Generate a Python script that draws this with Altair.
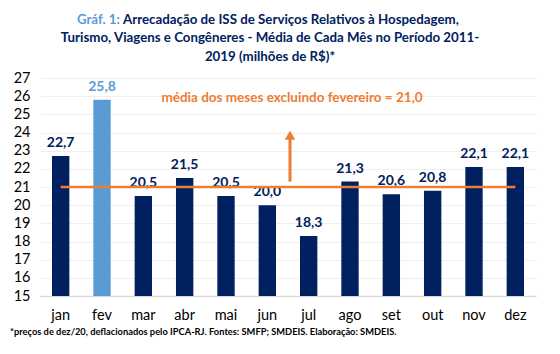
import altair as alt
import pandas as pd

months = ["jan", "fev", "mar", "abr", "mai", "jun", "jul", "ago", "set", "out", "nov", "dez"]
values = [22.7, 25.8, 20.5, 21.5, 20.5, 20.0, 18.3, 21.3, 20.6, 20.8, 22.1, 22.1]
highlight = ["n", "s", "n", "n", "n", "n", "n", "n", "n", "n", "n", "n"]
mean_excl_feb = 21.0
arrow_from = 21.3
arrow_to = 24.2
y_ticks = list(range(15, 28))

NAVY = "#002060"
LIGHT = "#5B9BD5"
ORANGE = "#ED7D31"
FONT = "Lato"

df = pd.DataFrame({
    "mes": months,
    "valor": values,
    "grupo": highlight,
    "rotulo": [f"{v:.1f}".replace(".", ",") for v in values],
})

xscale = alt.Scale(domain=months, paddingInner=0.58, paddingOuter=0.29)
yscale = alt.Scale(domain=[15, 27], nice=False, zero=False)
cscale = alt.Scale(domain=["n", "s"], range=[NAVY, LIGHT])

xaxis = alt.Axis(title=None, labelAngle=0, labelFontSize=14.5, labelColor="#000000",
                 labelFont=FONT, labelPadding=12, ticks=False,
                 domainColor="#D9D9D9", domainWidth=1.5)
yaxis = alt.Axis(title=None, values=y_ticks, labelFontSize=14.5, labelColor="#000000",
                 labelFont=FONT, labelPadding=10, ticks=False, domain=False,
                 labelOverlap=False, gridColor="#EFEFEF", gridWidth=1)

base = alt.Chart(df)

bars = base.mark_bar().encode(
    x=alt.X("mes:N", scale=xscale, sort=months, axis=xaxis),
    y=alt.Y("valor:Q", scale=yscale, axis=yaxis),
    y2=alt.datum(15),
    color=alt.Color("grupo:N", scale=cscale, legend=None),
)

labels = base.mark_text(baseline="bottom", dy=-6, fontSize=14, fontWeight="bold", font=FONT).encode(
    x=alt.X("mes:N", scale=xscale, sort=months, axis=xaxis),
    y=alt.Y("valor:Q", scale=yscale, axis=yaxis),
    text="rotulo:N",
    color=alt.Color("grupo:N", scale=cscale, legend=None),
)

mean_df = pd.DataFrame({"mes": [months[0], months[-1]], "valor": [mean_excl_feb, mean_excl_feb]})
mean_line = alt.Chart(mean_df).mark_line(color=ORANGE, strokeWidth=2.5).encode(
    x=alt.X("mes:N", scale=xscale, sort=months, axis=xaxis),
    y=alt.Y("valor:Q", scale=yscale, axis=yaxis),
)

arrow_df = pd.DataFrame({"y1": [arrow_from], "y2": [arrow_to - 0.5], "tip": [arrow_to - 0.35]})
arrow_shaft = alt.Chart(arrow_df).mark_rule(color=ORANGE, strokeWidth=3).encode(
    x=alt.value(250),
    y=alt.Y("y1:Q", scale=yscale, axis=yaxis),
    y2="y2:Q",
)
arrow_head = alt.Chart(arrow_df).mark_point(shape="triangle-up", filled=True, color=ORANGE,
                                             size=110, opacity=1).encode(
    x=alt.value(250),
    y=alt.Y("tip:Q", scale=yscale, axis=yaxis),
)

annot = alt.Chart(pd.DataFrame({"t": ["média dos meses excluindo fevereiro = 21,0"]})).mark_text(
    color=ORANGE, fontSize=13.5, fontWeight="bold", font=FONT, align="center", baseline="middle"
).encode(x=alt.value(252), y=alt.value(20), text="t:N")

title_rows = [
    ("Gráf. 1:", LIGHT, "right", 80, -58),
    ("Arrecadação de ISS de Serviços Relativos à Hospedagem,", NAVY, "left", 83, -58),
    ("Turismo, Viagens e Congêneres - Média de Cada Mês no Período 2011-", NAVY, "center", 230, -40),
    ("2019 (milhões de R$)*", NAVY, "center", 230, -21),
]
title_layers = []
for txt, col, al, xx, yy in title_rows:
    title_layers.append(
        alt.Chart(pd.DataFrame({"t": [txt]})).mark_text(
            color=col, fontSize=13.3, fontWeight="bold", font=FONT, align=al, baseline="middle"
        ).encode(x=alt.value(xx), y=alt.value(yy), text="t:N")
    )

foot = alt.Chart(pd.DataFrame({"t": ["*preços de dez/20, deflacionados pelo IPCA-RJ. Fontes: SMFP; SMDEIS. Elaboração: SMDEIS."]})).mark_text(
    color="#000000", fontSize=9.3, fontWeight="bold", font=FONT, align="left", baseline="middle"
).encode(x=alt.value(-30), y=alt.value(254), text="t:N")

chart = alt.layer(bars, labels, mean_line, arrow_shaft, arrow_head, annot, foot, *title_layers).properties(
    width=496, height=218,
    autosize=alt.AutoSizeParams(type="none"),
    padding={"left": 40, "top": 78, "right": 24, "bottom": 58},
    background="white",
).configure_view(stroke=None).configure_axisY(labelOverlap=False)

chart.save("out.html", embed_options={"renderer": "svg", "actions": False})
